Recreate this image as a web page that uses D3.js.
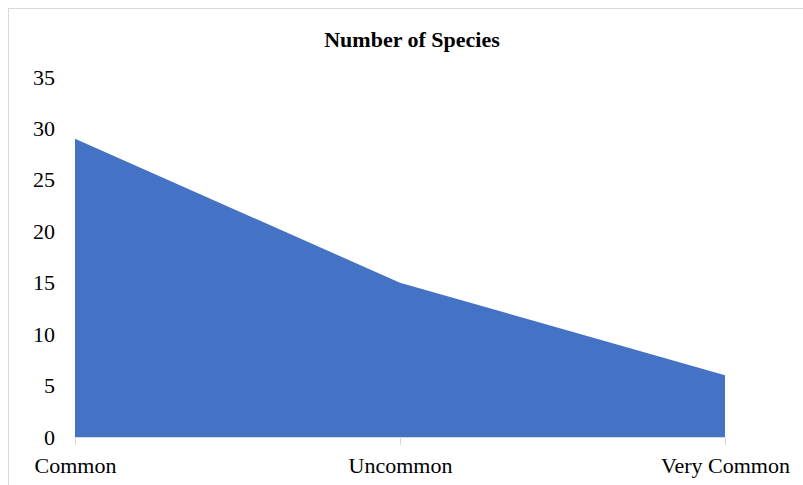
<!DOCTYPE html>
<html><head><meta charset="utf-8">
<script src="https://cdn.jsdelivr.net/npm/d3@7"></script>
<style>body{margin:0;background:#fff}svg{display:block}
svg text{font-family:"Liberation Serif","Times New Roman","DejaVu Serif",serif !important;}</style>
</head><body>
<svg id="c" width="803" height="485"></svg>
<script>
const categories = ["Common", "Uncommon", "Very Common"];
const values = [29, 15, 6];
const yTicks = [0, 5, 10, 15, 20, 25, 30, 35];
const title = "Number of Species";

const svg = d3.select("#c");
svg.append("rect").attr("x", 8.5).attr("y", 8.5).attr("width", 1000).attr("height", 1000)
  .attr("fill", "none").attr("stroke", "#d9d9d9");

const x = d3.scalePoint().domain(categories).range([75, 725]);
const y = d3.scaleLinear().domain([0, 35]).range([437, 77]);

const area = d3.area().x((d, i) => x(categories[i])).y0(y(0)).y1(d => y(d));
svg.append("path").datum(values).attr("d", area).attr("fill", "#4472C4");

const xa = svg.append("g").attr("transform", `translate(0,${y(0)})`)
  .call(d3.axisBottom(x).tickSize(8).tickPadding(12));
xa.attr("font-family", null);
xa.select(".domain").attr("stroke", "#d9d9d9").attr("d", `M${x(categories[0])},0.5H${x(categories[2])}`);
xa.selectAll(".tick line").attr("stroke", "#d9d9d9");
xa.selectAll("text").attr("font-size", 22).attr("fill", "#000");

const ya = svg.append("g").attr("transform", "translate(55,0)")
  .call(d3.axisLeft(y).tickValues(yTicks).tickSize(0).tickPadding(0));
ya.attr("font-family", null);
ya.select(".domain").remove();
ya.selectAll("text").attr("font-size", 22).attr("fill", "#000");

svg.append("text").attr("x", 412).attr("y", 47).attr("text-anchor", "middle")
  .attr("font-size", 22).attr("font-weight", "bold").text(title);
</script>
</body></html>
